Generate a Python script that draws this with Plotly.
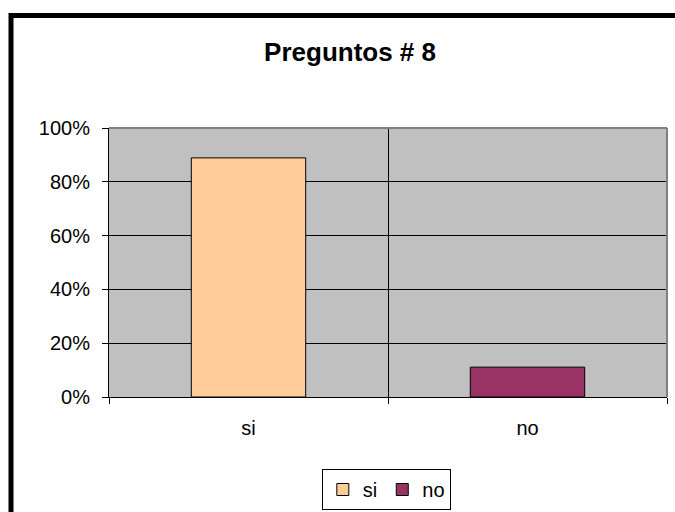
import plotly.graph_objects as go

categories = ["si", "no"]
values = [0.889, 0.111]
colors = ["#FFCC99", "#993366"]
y_ticks = [0, 0.2, 0.4, 0.6, 0.8, 1.0]
y_tick_labels = ["0%", "20%", "40%", "60%", "80%", "100%"]
title_text = "Preguntos # 8"

FONT = "Liberation Sans, Arial, sans-serif"

fig = go.Figure()
for cat, val, col in zip(categories, values, colors):
    fig.add_trace(go.Bar(
        x=[cat], y=[val], name=cat,
        marker=dict(color=col, line=dict(color="black", width=1)),
        width=0.41,
    ))

fig.update_layout(
    width=675, height=512,
    margin=dict(l=109, r=8, t=128, b=115),
    paper_bgcolor="white",
    plot_bgcolor="#C0C0C0",
    barmode="overlay",
    font=dict(family=FONT, size=20, color="black"),
    title=dict(text="<b>" + title_text + "</b>", x=0.432, xref="paper", xanchor="center",
               y=1 - 52 / 512, yanchor="middle", font=dict(family=FONT, size=26, color="black")),
    showlegend=True,
    legend=dict(orientation="h", x=0.497, xanchor="center", xref="paper",
                y=1 - 469 / 512, yanchor="top", yref="container",
                bordercolor="black", borderwidth=1, bgcolor="white",
                font=dict(family=FONT, size=20), itemwidth=30,
                tracegroupgap=0),
    xaxis=dict(
        categoryorder="array", categoryarray=categories,
        tickson="boundaries", showgrid=True, gridcolor="black", gridwidth=1,
        showline=True, linecolor="black", linewidth=1,
        ticks="outside", ticklen=6, tickcolor="black", tickwidth=1,
        tickfont=dict(family=FONT, size=20), ticklabelstandoff=13,
        zeroline=False, automargin=False,
    ),
    yaxis=dict(
        range=[0, 1], tickvals=y_ticks, ticktext=y_tick_labels,
        showgrid=True, gridcolor="black", gridwidth=1,
        showline=True, linecolor="black", linewidth=1,
        ticks="outside", ticklen=6, tickcolor="black", tickwidth=1,
        tickfont=dict(family=FONT, size=20), ticklabelstandoff=8,
        zeroline=False, fixedrange=True, automargin=False,
    ),
)

# gray plot-area border on top and right
fig.add_shape(type="line", xref="paper", yref="paper", x0=0, x1=1, y0=1, y1=1,
              line=dict(color="#808080", width=2), layer="above")
fig.add_shape(type="line", xref="paper", yref="paper", x0=1, x1=1, y0=0, y1=1,
              line=dict(color="#808080", width=2), layer="above")

# outer chart-area border (extends beyond the window on right and bottom)
fig.add_shape(type="rect", xref="paper", yref="paper",
              x0=(11 - 109) / 558, x1=(690 - 109) / 558,
              y0=-0.55, y1=(397 - 15.5) / 269,
              line=dict(color="black", width=5), fillcolor="rgba(0,0,0,0)", layer="below")

fig.write_html("out.html", config={"displayModeBar": False},
               post_script="document.body.style.margin='0';")
